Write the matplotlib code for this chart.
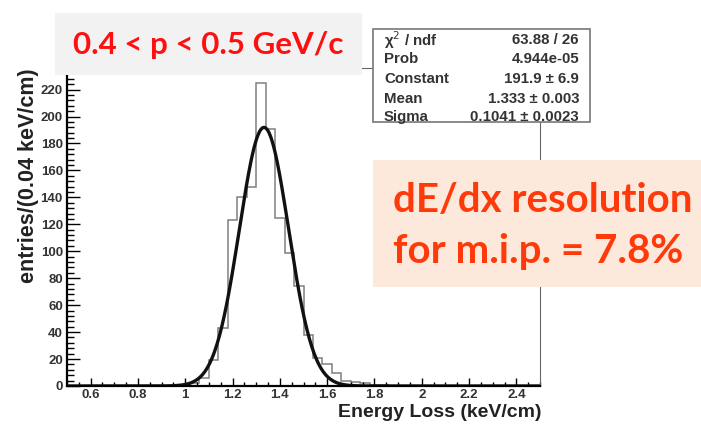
import numpy as np
import matplotlib
matplotlib.use("Agg")
import matplotlib.pyplot as plt
from matplotlib.patches import Rectangle
from matplotlib.ticker import MultipleLocator

# histogram: 50 bins of 0.04 keV/cm from 0.5 to 2.5
bin_edges = np.round(np.arange(0.5, 2.5001, 0.04), 2)
counts = [0, 0, 0, 0, 0, 0, 0, 0, 0, 0,
          0, 0, 0, 2, 6, 19, 43, 123, 140, 148,
          225, 191, 125, 99, 74, 38, 21, 16, 10, 4,
          3, 2, 1, 1, 0, 0, 0, 0, 0, 0,
          0, 0, 0, 0, 0, 0, 0, 0, 0, 0]

# gaussian fit result
fit_const = 191.9
fit_mean = 1.333
fit_sigma = 0.1041

stat_names = ["χ$^2$ / ndf", "Prob", "Constant", "Mean", "Sigma"]
stat_values = ["63.88 / 26", "4.944e-05", "191.9 ± 6.9", "1.333 ± 0.003", "0.1041 ± 0.0023"]

W, H = 701, 424
fig = plt.figure(figsize=(W / 100, H / 100), dpi=100)
fig.patch.set_facecolor("white")


def fx(x):
    return x / W


def fy(y):
    return 1 - y / H


ax = fig.add_axes([fx(67), fy(386), fx(540) - fx(67), fy(68) - fy(386)])
ax.stairs(counts, bin_edges, color="#808080", lw=1.1)
xs = np.linspace(0.5, 2.5, 600)
ax.plot(xs, fit_const * np.exp(-0.5 * ((xs - fit_mean) / fit_sigma) ** 2),
        color="#111111", lw=2.4)

ax.set_xlim(0.5, 2.5)
ax.set_ylim(0, 236)
ax.xaxis.set_major_locator(MultipleLocator(0.2))
ax.xaxis.set_minor_locator(MultipleLocator(0.05))
ax.yaxis.set_major_locator(MultipleLocator(20))
ax.yaxis.set_minor_locator(MultipleLocator(4))
ax.set_xticks(np.round(np.arange(0.6, 2.41, 0.2), 1))
ax.set_xticklabels(["0.6", "0.8", "1", "1.2", "1.4", "1.6", "1.8", "2", "2.2", "2.4"])
ax.tick_params(axis="x", which="major", direction="in", length=6, width=1, pad=2)
ax.tick_params(axis="x", which="minor", direction="in", length=3, width=1)
ax.tick_params(axis="y", which="major", direction="in", length=9, width=1, pad=3)
ax.tick_params(axis="y", which="minor", direction="in", length=5, width=1)
for lab in ax.get_xticklabels() + ax.get_yticklabels():
    lab.set_fontfamily("Liberation Sans")
    lab.set_fontweight("bold")
    lab.set_fontsize(9.5)
    lab.set_color("#333333")
ax.spines["left"].set_linewidth(1.6)
ax.spines["bottom"].set_linewidth(1.6)
ax.spines["right"].set_color("#666666")
ax.spines["top"].set_color("#666666")

# x title sits tight under the axis, right-aligned like ROOT does it
fig.text(fx(541), fy(417), "Energy Loss (keV/cm)", fontfamily="Liberation Sans",
         fontweight="bold", fontsize=14, ha="right", va="baseline", color="#222222")
ax.set_ylabel("entries/(0.04 keV/cm)", fontfamily="Liberation Sans", fontweight="bold",
              fontsize=15.5, loc="top", labelpad=1, color="#222222")

# grey momentum label
fig.patches.append(Rectangle((fx(55), fy(75)), fx(362) - fx(55), fy(13) - fy(75),
                             transform=fig.transFigure, facecolor="#f2f2f2",
                             edgecolor="none", zorder=5))
fig.text(fx(208), fy(45), "0.4 < p < 0.5 GeV/c", color="#ff1010", fontsize=22.5,
         fontfamily="Lato", fontweight="bold", ha="center", va="center", zorder=6)

# stats box
fig.patches.append(Rectangle((fx(373), fy(122)), fx(590) - fx(373), fy(29) - fy(122),
                             transform=fig.transFigure, facecolor="white",
                             edgecolor="#777777", lw=1.2, zorder=5))
row_y = [40, 59, 79, 99, 117]
for name, val, ry in zip(stat_names, stat_values, row_y):
    fig.text(fx(384), fy(ry), name, fontsize=10.8, fontfamily="Liberation Sans",
             fontweight="bold", color="#333333", ha="left", va="center", zorder=6)
    fig.text(fx(579), fy(ry), val, fontsize=10.8, fontfamily="Liberation Sans",
             fontweight="bold", color="#333333", ha="right", va="center", zorder=6)

# resolution label
fig.patches.append(Rectangle((fx(373), fy(287)), fx(701) - fx(373), fy(160) - fy(287),
                             transform=fig.transFigure, facecolor="#fde9dc",
                             edgecolor="none", zorder=5))
fig.text(fx(393), fy(200), "dE/dx resolution", color="#ff3a0a", fontsize=29,
         fontfamily="Lato", fontweight="bold", ha="left", va="center", zorder=6)
fig.text(fx(393), fy(252), "for m.i.p. = 7.8%", color="#ff3a0a", fontsize=29,
         fontfamily="Lato", fontweight="bold", ha="left", va="center", zorder=6)

fig.savefig("out.png", dpi=100)
